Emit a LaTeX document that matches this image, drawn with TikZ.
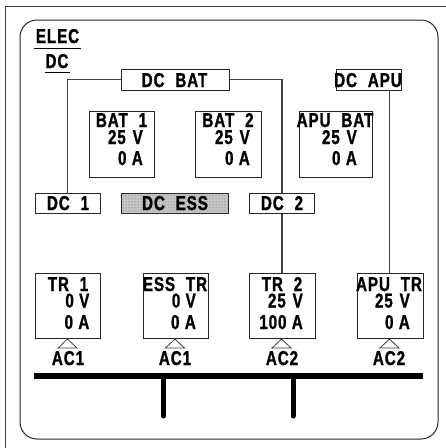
\documentclass[tikz,border=0pt]{standalone}
\usepackage{fontspec}
\setmainfont{Liberation Sans}[LetterSpace=6,WordSpace=2.1,BoldFont={Liberation Sans Bold},BoldFeatures={FakeBold=1.4}]
\usetikzlibrary{patterns}
\newcommand{\lbl}[1]{\scalebox{.76}[1]{\bfseries\fontsize{20}{20}\selectfont #1}}
\newcommand{\gapV}{\hspace{9pt}}
\newcommand{\gapA}{\hspace{7pt}}
\tikzset{
  x=1pt,y=-1pt,
  box/.style={draw=black!85,line width=1.1pt,inner sep=0pt,anchor=north west,fill=white},
  txt/.style={inner sep=0pt,anchor=base,text=black},
  val/.style={inner sep=0pt,anchor=base east,text=black},
  wire/.style={draw=black!75,line width=1.1pt},
  bus/.style={draw=black,line width=6pt},
  stub/.style={draw=black,line width=5pt,line cap=round},
  tri/.style={draw=black!75,line width=.8pt,fill=white},
}
\newcommand{\bx}[5]{\node[box,minimum width=#4pt,minimum height=#5pt] (#1) at (#2,#3) {};}
\begin{document}
\begin{tikzpicture}
\useasboundingbox (0,0) rectangle (446,448);
\fill[white] (0,0) rectangle (446,448);
% frames
\draw[black!75,line width=1pt] (5,448) -- (5,6.5) -- (446,6.5);
\draw[black!85,line width=1pt,rounded corners=17pt] (20,20) rectangle (438,439);
% boxes
\bx{dcbat}{121}{69}{107.5}{21}
\bx{dcapu}{335.5}{69}{65.5}{21}
\bx{dcone}{35}{192.5}{65}{20.5}
\bx{dctwo}{249}{192.5}{65}{20.5}
\node[box,minimum width=107pt,minimum height=20.5pt,fill=black!22,postaction={pattern=dots,pattern color=black!70}] (dcess) at (121,192.5) {};
% wires (behind the boxes they pass)
\coordinate (wa) at (67.5,79.5);
\coordinate (wb) at (282,79.5);
\draw[wire] (dcbat.west |- wa) -- (wa) -- (wa |- dcone.north);
\draw[wire] (dcbat.east |- wb) -- (wb) -- (wb |- dctwo.north);
\bx{batone}{88.5}{111}{65.5}{65.5}
\bx{battwo}{195}{111}{65.5}{65.5}
\bx{apubat}{298.5}{111}{73.5}{65.5}
\bx{trone}{34.5}{272.5}{65.5}{65.5}
\bx{esstr}{142.5}{272.5}{65.5}{65.5}
\bx{trtwo}{249}{272.5}{65.5}{65.5}
\bx{aputr}{357}{272.5}{65.5}{65.5}
\draw[wire] (dctwo.south -| wb) -- (trtwo.north -| wb);
\coordinate (wc) at (389.5,90);
\draw[wire] (wc) -- (wc |- aputr.north);
% triangles
\foreach \xx in {67.5,175,281.5,389.5}{
  \draw[tri] (\xx,339) -- (\xx+9.5,348) -- (\xx-9.5,348) -- cycle;
}
% bus
\coordinate (busl) at (34,376.3); \coordinate (busr) at (423,376.3);
\draw[bus] (busl) -- (busr);
\coordinate (s1) at (163.5,376); \coordinate (s2) at (293,376);
\draw[stub] (s1) -- (163.5,416);
\draw[stub] (s2) -- (293,416);
% title
\node[txt] (elec) at (57.5,43) {\lbl{ELEC}};
\node[txt] (dc) at (57,68) {\lbl{DC}};
\draw[black,line width=1.2pt] (34,48.5) -- (81,48.5);
\draw[black,line width=1.2pt] (45,72.5) -- (70,72.5);
% labels
\node[txt] (tdcbat) at (174.5,87) {\lbl{DC BAT}};
\node[txt] (tdcapu) at (368,87) {\lbl{DC APU}};
\node[txt] (tdcone) at (68,210) {\lbl{DC 1}};
\node[txt] (tdcess) at (175,210) {\lbl{DC ESS}};
\node[txt] (tdctwo) at (282,210) {\lbl{DC 2}};
\node[txt] (b1) at (121.5,127) {\lbl{BAT 1}};
\node[val] (b1v) at (143,144) {\lbl{25\gapV V}};
\node[val] (b1a) at (143,165) {\lbl{0\gapA A}};
\node[txt] (b2) at (228,127) {\lbl{BAT 2}};
\node[val] (b2v) at (250,144) {\lbl{25\gapV V}};
\node[val] (b2a) at (250,165) {\lbl{0\gapA A}};
\node[txt] (b3) at (335,127) {\lbl{APU BAT}};
\node[val] (b3v) at (357,144) {\lbl{25\gapV V}};
\node[val] (b3a) at (357,165) {\lbl{0\gapA A}};
\node[txt] (t1) at (68,291) {\lbl{TR 1}};
\node[val] (t1v) at (89.5,307.5) {\lbl{0\gapA V}};
\node[val] (t1a) at (89.5,329) {\lbl{0\gapA A}};
\node[txt] (t2) at (175,291) {\lbl{ESS TR}};
\node[val] (t2v) at (196,307.5) {\lbl{0\gapA V}};
\node[val] (t2a) at (196,329) {\lbl{0\gapA A}};
\node[txt] (t3) at (282,291) {\lbl{TR 2}};
\node[val] (t3v) at (303,307.5) {\lbl{25\gapV V}};
\node[val] (t3a) at (303,329) {\lbl{100\gapA A}};
\node[txt] (t4) at (389,291) {\lbl{APU TR}};
\node[val] (t4v) at (410,307.5) {\lbl{25\gapV V}};
\node[val] (t4a) at (410,329) {\lbl{0\gapA A}};
\node[txt] (a1) at (68,365) {\lbl{AC1}};
\node[txt] (a2) at (175,365) {\lbl{AC1}};
\node[txt] (a3) at (282,365) {\lbl{AC2}};
\node[txt] (a4) at (389,365) {\lbl{AC2}};
\end{tikzpicture}
\end{document}
